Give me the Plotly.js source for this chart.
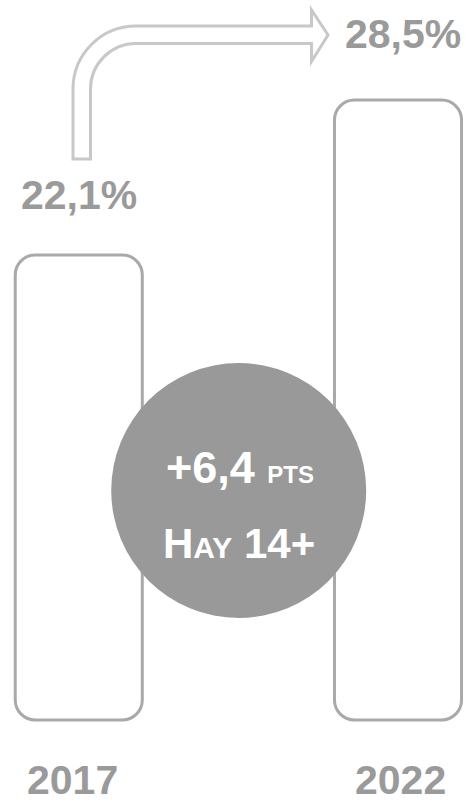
<!DOCTYPE html>
<html>
<head>
<meta charset="utf-8">
<script src="https://cdn.plot.ly/plotly-3.0.1.min.js"></script>
<style>html,body{margin:0;padding:0;background:#fff;}#chart{width:467px;height:804px;}</style>
</head>
<body>
<div id="chart"></div>
<script>
// ---- data ----
const years = ['2017', '2022'];
const shares = [22.1, 28.5];
const shareLabels = ['22,1%', '28,5%'];
const changeValue = '+6,4';
const changeUnit = 'PTS';
const audience = ['H', 'AY', '14+'];

// ---- layout constants ----
const W = 467, H = 804;
const xRange = [-0.2467, 1.2161];
const axisFloor = 2.9;              // value at the (hidden) baseline of the bars
const yRange = [-0.568, 32.63];
const barWidth = 0.398;
const cornerPx = 20;
const textGrey = '#9a9a9a';
const font = 'Liberation Sans, Arial, sans-serif';

const pxPerX = W / (xRange[1] - xRange[0]);
const pxPerY = H / (yRange[1] - yRange[0]);
const K = 0.5523;

function roundedRect(xc, w, y0, y1, rpx) {
  const rx = rpx / pxPerX, ry = rpx / pxPerY;
  const xl = xc - w / 2, xr = xc + w / 2;
  return `M ${xl} ${y0 + ry} L ${xl} ${y1 - ry} ` +
    `C ${xl} ${y1 - ry + K * ry} ${xl + rx - K * rx} ${y1} ${xl + rx} ${y1} ` +
    `L ${xr - rx} ${y1} ` +
    `C ${xr - rx + K * rx} ${y1} ${xr} ${y1 - ry + K * ry} ${xr} ${y1 - ry} ` +
    `L ${xr} ${y0 + ry} ` +
    `C ${xr} ${y0 + ry - K * ry} ${xr - rx + K * rx} ${y0} ${xr - rx} ${y0} ` +
    `L ${xl + rx} ${y0} ` +
    `C ${xl + rx - K * rx} ${y0} ${xl} ${y0 + ry - K * ry} ${xl} ${y0 + ry} Z`;
}

// pixel -> paper helpers for the decorative arrow / badge
const px = x => (x / W).toFixed(5);
const py = y => (1 - y / H).toFixed(5);

function arrowPath() {
  const R = 63, r = 45.5, cx = 136, cy = 89;
  let d = `M ${px(73)} ${py(159)} L ${px(73)} ${py(cy)} `;
  d += `C ${px(73)} ${py(cy - K * R)} ${px(cx - K * R)} ${py(cy - R)} ${px(cx)} ${py(cy - R)} `;
  d += `L ${px(311.5)} ${py(26)} L ${px(311.5)} ${py(10)} L ${px(328)} ${py(35)} L ${px(311.5)} ${py(61.5)} L ${px(311.5)} ${py(43.5)} `;
  d += `L ${px(cx)} ${py(cy - r)} `;
  d += `C ${px(cx - K * r)} ${py(cy - r)} ${px(cx - r)} ${py(cy - K * r)} ${px(cx - r)} ${py(cy)} `;
  d += `L ${px(cx - r)} ${py(159)} Z`;
  return d;
}

const xIdx = years.map((_, i) => i);

const shapes = [];
xIdx.forEach((xi, i) => {
  shapes.push({
    type: 'path', xref: 'x', yref: 'y', layer: 'above',
    path: roundedRect(xi, barWidth, axisFloor, shares[i], cornerPx),
    line: {color: '#a9a9a9', width: 3}, fillcolor: 'rgba(255,255,255,0)'
  });
});
shapes.push({
  type: 'path', xref: 'paper', yref: 'paper', layer: 'above',
  path: arrowPath(), line: {color: '#c8c8c8', width: 3}, fillcolor: 'rgba(255,255,255,0)'
});
shapes.push({
  type: 'circle', xref: 'paper', yref: 'paper', layer: 'above',
  x0: 111.2 / W, x1: 366.2 / W, y0: 1 - 618 / H, y1: 1 - 363 / H,
  fillcolor: '#999999', line: {width: 0}
});

const annotations = [];
const valueShift = [[0, 60], [5, 66]];
xIdx.forEach((xi, i) => {
  annotations.push({
    x: xi, y: shares[i], xref: 'x', yref: 'y', showarrow: false,
    text: '<b>' + shareLabels[i] + '</b>', xshift: valueShift[i][0], yshift: valueShift[i][1],
    xanchor: 'center', yanchor: 'middle',
    font: {family: font, size: 41, color: textGrey}
  });
  annotations.push({
    x: xi, y: 0, xref: 'x', yref: 'paper', showarrow: false,
    text: '<b>' + years[i] + '</b>', xshift: i === 0 ? -6 : 2,
    xanchor: 'center', yanchor: 'bottom', borderpad: 0,
    font: {family: font, size: 41, color: textGrey}
  });
});
annotations.push({
  x: 240 / W, y: 1 - 467 / H, xref: 'paper', yref: 'paper', showarrow: false,
  text: '<b>' + changeValue + ' <span style="font-size:24px">' + changeUnit + '</span></b>',
  xanchor: 'center', yanchor: 'middle',
  font: {family: font, size: 45, color: '#ffffff'}
});
annotations.push({
  x: 239 / W, y: 1 - 543 / H, xref: 'paper', yref: 'paper', showarrow: false,
  text: '<b>' + audience[0] + '<span style="font-size:30px">' + audience[1] + '</span> ' + audience[2] + '</b>',
  xanchor: 'center', yanchor: 'middle',
  font: {family: font, size: 42, color: '#ffffff'}
});

const data = [{
  type: 'bar', x: xIdx, y: shares.map(v => v - axisFloor), base: axisFloor,
  width: barWidth, marker: {color: 'rgba(0,0,0,0)', line: {width: 0}},
  hoverinfo: 'skip', showlegend: false
}];

const layout = {
  width: W, height: H,
  margin: {l: 0, r: 0, t: 0, b: 0, pad: 0},
  paper_bgcolor: '#ffffff', plot_bgcolor: '#ffffff',
  xaxis: {range: xRange, visible: false, fixedrange: true},
  yaxis: {range: yRange, visible: false, fixedrange: true},
  shapes: shapes, annotations: annotations, showlegend: false
};

Plotly.newPlot('chart', data, layout, {staticPlot: true});
</script>
</body>
</html>
